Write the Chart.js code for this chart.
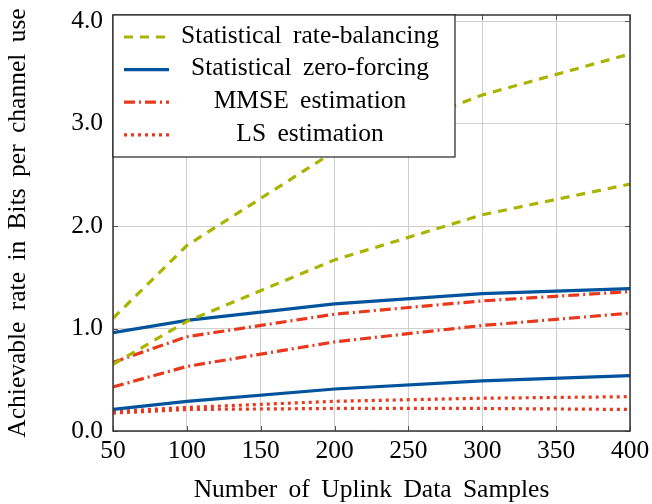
<!DOCTYPE html>
<html>
<head>
<meta charset="utf-8">
<script src="https://cdn.jsdelivr.net/npm/chart.js@4.4.0/dist/chart.umd.min.js"></script>
<style>
html, body { margin: 0; padding: 0; background: #fff; }
#wrap { width: 652px; height: 504px; position: relative; }
</style>
</head>
<body>
<div id="wrap"><canvas id="rateChart"></canvas></div>
<script>
// --- data ---
const samples = [50, 100, 200, 300, 400];
const rateBalHigh = [1.10, 1.81, 2.73, 3.28, 3.68];
const rateBalLow  = [0.65, 1.07, 1.67, 2.11, 2.41];
const zfHigh      = [0.96, 1.08, 1.24, 1.34, 1.39];
const zfLow       = [0.21, 0.29, 0.41, 0.49, 0.54];
const mmseHigh    = [0.67, 0.92, 1.14, 1.27, 1.36];
const mmseLow     = [0.43, 0.63, 0.87, 1.03, 1.15];
const lsHigh      = [0.19, 0.23, 0.29, 0.32, 0.335];
const lsLow       = [0.175, 0.21, 0.22, 0.22, 0.21];
const legendNames = ["Statistical rate-balancing", "Statistical zero-forcing", "MMSE estimation", "LS estimation"];
const yTicks = [0, 1, 2, 3, 4];

const SERIF = "'Liberation Serif', 'DejaVu Serif', serif";
const FS = 25.5;

// styles per legend entry
const styles = [
    { color: '#aab400', dash: [9, 7] },
    { color: '#00539c', dash: [] },
    { color: '#e8391c', dash: [11, 4, 2, 4] },
    { color: '#e8391c', dash: [3, 4] }
];

const pairs = [
    [rateBalHigh, rateBalLow],
    [zfHigh, zfLow],
    [mmseHigh, mmseLow],
    [lsHigh, lsLow]
];

const toPoints = vals => vals.map((v, i) => ({ x: samples[i], y: v }));

const datasets = [];
pairs.forEach((pair, k) => {
    pair.forEach(vals => {
        datasets.push({
            label: legendNames[k],
            data: toPoints(vals),
            borderColor: styles[k].color,
            borderDash: styles[k].dash,
            borderWidth: 3.2,
            borderCapStyle: 'butt',
            pointRadius: 0,
            fill: false,
            tension: 0
        });
    });
});

// wider word gaps like the LaTeX original
const spacingPlugin = {
    id: 'spacing',
    beforeDraw(chart) {
        if ('wordSpacing' in chart.ctx) chart.ctx.wordSpacing = '5px';
    }
};

// frame + inner tick marks (pgfplots look)
const framePlugin = {
    id: 'frame',
    afterDatasetsDraw(chart) {
        const { ctx, chartArea: a, scales } = chart;
        ctx.save();
        ctx.strokeStyle = '#555';
        ctx.lineWidth = 1;
        ctx.beginPath();
        scales.x.ticks.forEach(t => {
            const px = Math.round(scales.x.getPixelForValue(t.value)) + 0.5;
            ctx.moveTo(px, a.bottom); ctx.lineTo(px, a.bottom - 5);
            ctx.moveTo(px, a.top); ctx.lineTo(px, a.top + 5);
        });
        scales.y.ticks.forEach(t => {
            const py = Math.round(scales.y.getPixelForValue(t.value)) + 0.5;
            ctx.moveTo(a.left, py); ctx.lineTo(a.left + 5, py);
            ctx.moveTo(a.right, py); ctx.lineTo(a.right - 5, py);
        });
        ctx.stroke();
        ctx.strokeStyle = '#333';
        ctx.lineWidth = 1.5;
        ctx.strokeRect(a.left, a.top, a.right - a.left, a.bottom - a.top);
        ctx.restore();
    }
};

// legend box drawn inside the plot, top-left
const legendPlugin = {
    id: 'boxLegend',
    afterDraw(chart) {
        const { ctx, chartArea: a } = chart;
        const x0 = a.left, y0 = a.top, w = 342, h = 142;
        ctx.save();
        ctx.fillStyle = '#fff';
        ctx.fillRect(x0, y0, w, h);
        ctx.strokeStyle = '#222';
        ctx.lineWidth = 1.2;
        ctx.strokeRect(x0, y0, w, h);
        ctx.font = FS + 'px ' + SERIF;
        if ('wordSpacing' in ctx) ctx.wordSpacing = '5px';
        ctx.fillStyle = '#000';
        ctx.textAlign = 'center';
        ctx.textBaseline = 'middle';
        legendNames.forEach((name, k) => {
            const cy = y0 + 22 + k * 32.6;
            ctx.strokeStyle = styles[k].color;
            ctx.lineWidth = 3.2;
            ctx.setLineDash(styles[k].dash);
            ctx.beginPath();
            ctx.moveTo(x0 + 11, cy);
            ctx.lineTo(x0 + 56, cy);
            ctx.stroke();
            ctx.setLineDash([]);
            ctx.fillText(name, x0 + 197, cy - 1);
        });
        ctx.restore();
    }
};

const ctx = document.getElementById('rateChart').getContext('2d');
new Chart(ctx, {
    type: 'line',
    data: { datasets },
    options: {
        responsive: true,
        maintainAspectRatio: false,
        animation: false,
        devicePixelRatio: 1,
        layout: { padding: { left: 0, right: 22, top: 15, bottom: 0 } },
        plugins: {
            legend: { display: false },
            tooltip: { enabled: false }
        },
        scales: {
            x: {
                type: 'linear',
                min: 50,
                max: 400,
                ticks: {
                    stepSize: 50,
                    color: '#000',
                    padding: 5,
                    maxRotation: 0,
                    font: { family: SERIF, size: FS }
                },
                grid: { color: '#cfcfcf', drawTicks: false },
                border: { display: false },
                title: {
                    display: true,
                    text: 'Number of Uplink Data Samples',
                    color: '#000',
                    font: { family: SERIF, size: FS, lineHeight: 1.1 },
                    padding: { top: 0, bottom: 0 }
                },
                afterFit(scale) {
                    scale.height = 73;
                    scale.paddingLeft = 0;
                    scale.paddingRight = 0;
                }
            },
            y: {
                min: 0,
                max: 4.06,
                afterBuildTicks(scale) {
                    scale.ticks = yTicks.map(v => ({ value: v }));
                },
                ticks: {
                    color: '#000',
                    padding: 10,
                    font: { family: SERIF, size: FS },
                    callback: v => Number(v).toFixed(1)
                },
                grid: { color: '#cfcfcf', drawTicks: false },
                border: { display: false },
                title: {
                    display: true,
                    text: 'Achievable rate in Bits per channel use',
                    color: '#000',
                    font: { family: SERIF, size: FS, lineHeight: 1.1 },
                    padding: { top: 4, bottom: 0 }
                },
                afterFit(scale) {
                    scale.width = 113;
                    scale.paddingTop = 0;
                    scale.paddingBottom = 0;
                }
            }
        }
    },
    plugins: [spacingPlugin, framePlugin, legendPlugin]
});
</script>
</body>
</html>
